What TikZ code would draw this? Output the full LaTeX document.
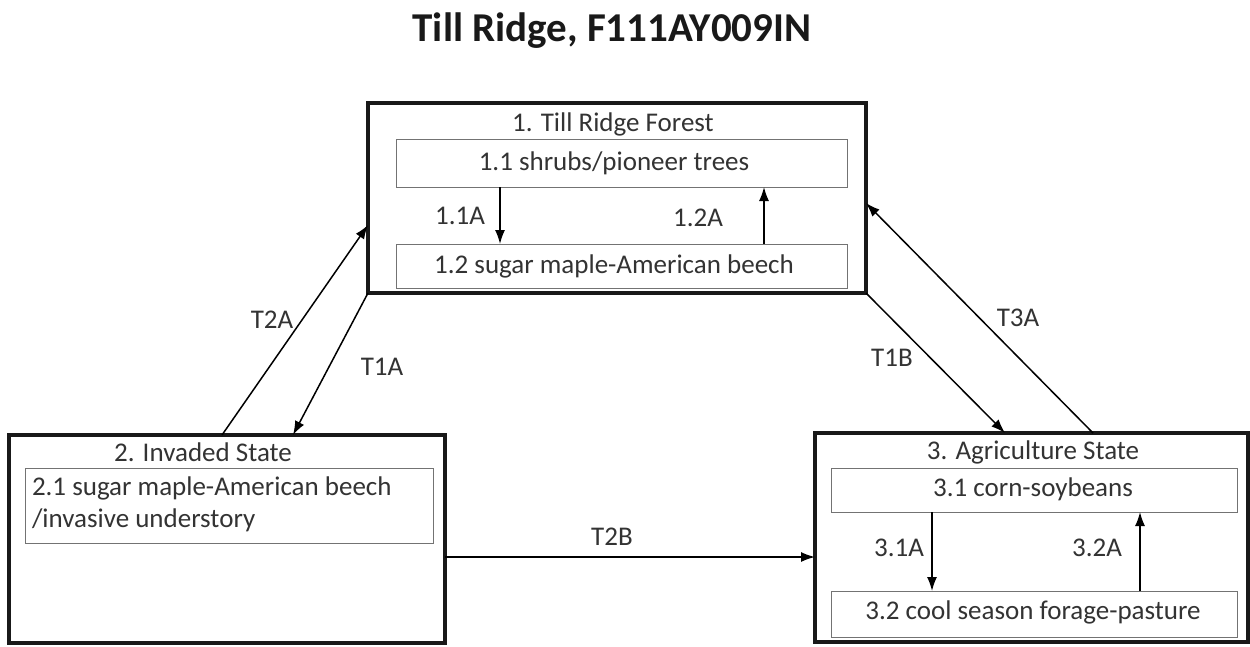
\documentclass[tikz,border=0pt]{standalone}
\usepackage{fontspec}
\setmainfont{Carlito}
\usetikzlibrary{arrows.meta,calc}
\definecolor{txt}{HTML}{333333}
\begin{document}
\begin{tikzpicture}[x=1pt,y=-1pt,
  every node/.style={font=\fontsize{27}{32}\selectfont, text=txt, inner sep=0pt, outer sep=0pt},
  statebox/.style={draw=black!90, line width=3.5pt, anchor=north west},
  subbox/.style={draw=black!55, line width=1pt, anchor=north west},
  arr/.style={draw=black, line width=1.5pt, -{Latex[length=14pt,width=10pt]}},
  lbl/.style={}]
\useasboundingbox (0,0) rectangle (1250,646);
\fill[white] (0,0) rectangle (1250,646);
% title
\node[font=\fontsize{41}{46}\bfseries\selectfont, text=black!90] (title) at (612,31) {Till Ridge, F111AY009IN};
% state boxes
\node[statebox, minimum width=498pt, minimum height=190pt] (b1) at (368,103) {};
\node[statebox, minimum width=436pt, minimum height=208pt] (b2) at (9,435) {};
\node[statebox, minimum width=433pt, minimum height=209pt] (b3) at (815,433) {};
% state titles
\node (t1) at (613,124) {1. Till Ridge Forest};
\node (t2) at (203,452) {2. Invaded State};
\node (t3) at (1033,452) {3. Agriculture State};
% community boxes
\node[subbox, minimum width=451pt, minimum height=48pt] (s11) at (396,139) {};
\node (s11t) at (614,163) {1.1 shrubs/pioneer trees};
\node[subbox, minimum width=451pt, minimum height=44pt] (s12) at (396,244) {};
\node (s12t) at (614,266) {1.2 sugar maple-American beech};
\node[subbox, minimum width=408pt, minimum height=75pt] (s21) at (25,468) {};
\node[anchor=west, align=left] (s21t) at (32,504) {2.1 sugar maple-American beech\\/invasive understory};
\node[subbox, minimum width=406pt, minimum height=44pt] (s31) at (831,468) {};
\node (s31t) at (1033,489) {3.1 corn-soybeans};
\node[subbox, minimum width=406pt, minimum height=46pt] (s32) at (831,591) {};
\node (s32t) at (1033,612) {3.2 cool season forage-pasture};
% within-state arrows
\draw[arr] ([xshift=104pt]s11.south west) -- ([xshift=104pt]s12.north west);
\draw[arr] ([xshift=368pt]s12.north west) -- ([xshift=368pt]s11.south west);
\draw[arr] ([xshift=101pt]s31.south west) -- ([xshift=101pt]s32.north west);
\draw[arr] ([xshift=309pt]s32.north west) -- ([xshift=309pt]s31.south west);
\node[lbl] (l11) at (460,216) {1.1A};
\node[lbl] (l12) at (698,218) {1.2A};
\node[lbl] (l31) at (899,548) {3.1A};
\node[lbl] (l32) at (1097,548) {3.2A};
% transitions
\draw[arr] ([xshift=213pt]b2.north west) -- ([yshift=-122pt]b1.north west);
\draw[arr] (b1.south west) -- ([xshift=284pt]b2.north west);
\draw[arr] (b1.south east) -- ([xshift=190pt]b3.north west);
\draw[arr] ([xshift=278pt]b3.north west) -- ([yshift=-100pt]b1.north east);
\draw[arr] ([yshift=-18pt]b2.east) -- ([yshift=-18pt]b2.east -| b3.west);
\node[lbl] (lT2A) at (272,320) {T2A};
\node[lbl] (lT1A) at (382,367) {T1A};
\node[lbl] (lT1B) at (892,358) {T1B};
\node[lbl] (lT3A) at (1018,318) {T3A};
\node[lbl] (lT2B) at (612,537) {T2B};
\end{tikzpicture}
\end{document}
